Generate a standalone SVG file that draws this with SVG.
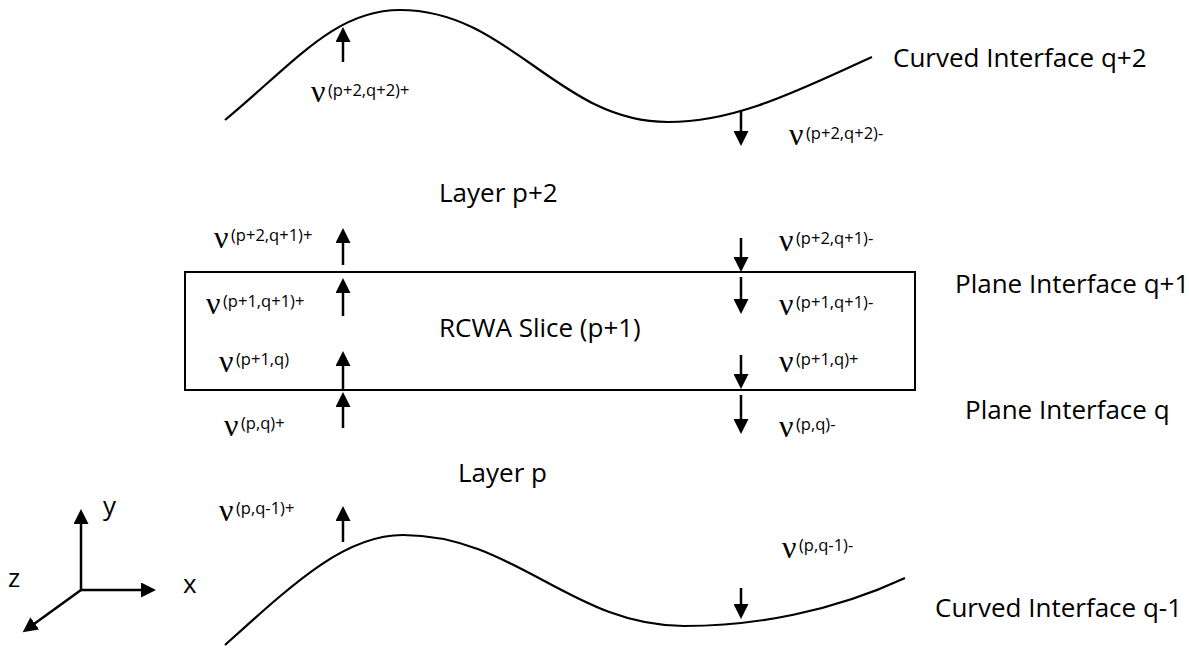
<svg xmlns="http://www.w3.org/2000/svg" width="1189" height="650" viewBox="0 0 1189 650">
<defs>
<marker id="ah" markerUnits="userSpaceOnUse" markerWidth="16" markerHeight="15" refX="1" refY="7.5" orient="auto">
<path d="M0,0 L15,7.5 L0,15 Z" fill="#000"/>
</marker>
<style>
.lbl{font-family:"Open Sans","Liberation Sans",sans-serif;font-size:26px;fill:#000}
.nu{font-family:"Liberation Serif","DejaVu Serif",serif;font-size:32px;fill:#000}
.sup{font-family:"Open Sans","Liberation Sans",sans-serif;font-size:16.5px}
.ar{stroke:#000;stroke-width:2.5;fill:none;marker-end:url(#ah)}
.curve{stroke:#000;stroke-width:2.2;fill:none}
</style>
</defs>
<rect width="1189" height="650" fill="#fff"/>

<g id="curve-top">
<path class="curve" d="M225,120 C295,62 335,10 400,10 C510,10 558,122 668,122 C738,122 802,88.5 872,57"/>
<text class="lbl" x="893" y="67">Curved Interface q+2</text>
</g>

<g id="layer-p2">
<text class="lbl" x="439" y="202">Layer p+2</text>
</g>

<g id="rcwa-slice">
<rect x="185" y="272" width="730" height="118" fill="none" stroke="#000" stroke-width="2"/>
<text class="lbl" x="439" y="337">RCWA Slice (p+1)</text>
</g>

<g id="plane-q1">
<text class="lbl" x="955" y="293">Plane Interface q+1</text>
</g>

<g id="plane-q">
<text class="lbl" x="965" y="419">Plane Interface q</text>
</g>

<g id="layer-p">
<text class="lbl" x="458" y="482">Layer p</text>
</g>

<g id="curve-bottom">
<path class="curve" d="M225,645 C295,582 345,535 403,535 C515,535 572,626 684,626 C754,626 832,612 905,578"/>
<text class="lbl" x="935" y="617">Curved Interface q-1</text>
</g>

<g id="labels">
<text class="nu" x="311" y="102">ν<tspan class="sup" x="328" y="96">(p+2,q+2)+</tspan></text>
<text class="nu" x="789" y="145">ν<tspan class="sup" x="806" y="139">(p+2,q+2)-</tspan></text>
<text class="nu" x="214" y="248">ν<tspan class="sup" x="231" y="241">(p+2,q+1)+</tspan></text>
<text class="nu" x="779" y="251">ν<tspan class="sup" x="796" y="244">(p+2,q+1)-</tspan></text>
<text class="nu" x="206" y="314">ν<tspan class="sup" x="223" y="307">(p+1,q+1)+</tspan></text>
<text class="nu" x="779" y="315">ν<tspan class="sup" x="796" y="308">(p+1,q+1)-</tspan></text>
<text class="nu" x="219" y="372">ν<tspan class="sup" x="236" y="365">(p+1,q)</tspan></text>
<text class="nu" x="779" y="372">ν<tspan class="sup" x="796" y="365">(p+1,q)+</tspan></text>
<text class="nu" x="224" y="436">ν<tspan class="sup" x="241" y="429">(p,q)+</tspan></text>
<text class="nu" x="779" y="437">ν<tspan class="sup" x="796" y="430">(p,q)-</tspan></text>
<text class="nu" x="219" y="521">ν<tspan class="sup" x="236" y="514">(p,q-1)+</tspan></text>
<text class="nu" x="782" y="558">ν<tspan class="sup" x="799" y="551">(p,q-1)-</tspan></text>
</g>

<g id="axes">
<line class="ar" x1="81" y1="591" x2="81" y2="523"/>
<line class="ar" x1="80" y1="590" x2="142" y2="590"/>
<line class="ar" x1="81" y1="590" x2="34" y2="624"/>
<text class="lbl" x="103" y="515" font-size="24">y</text>
<text class="lbl" x="183" y="593" font-size="24">x</text>
<text class="lbl" x="8" y="587" font-size="24">z</text>
</g>

<g id="connectors">
<line class="ar" x1="343" y1="62" x2="343" y2="41"/>
<line class="ar" x1="343" y1="265" x2="343" y2="242"/>
<line class="ar" x1="343" y1="316" x2="343" y2="292"/>
<line class="ar" x1="343" y1="390" x2="343" y2="365"/>
<line class="ar" x1="343" y1="428" x2="343" y2="406"/>
<line class="ar" x1="343" y1="542" x2="343" y2="520"/>
<line class="ar" x1="741" y1="110" x2="741" y2="132"/>
<line class="ar" x1="741" y1="238" x2="741" y2="258"/>
<line class="ar" x1="741" y1="277" x2="741" y2="300"/>
<line class="ar" x1="741" y1="355" x2="741" y2="375"/>
<line class="ar" x1="741" y1="395" x2="741" y2="420"/>
<line class="ar" x1="741" y1="588" x2="741" y2="605"/>
</g>
</svg>
